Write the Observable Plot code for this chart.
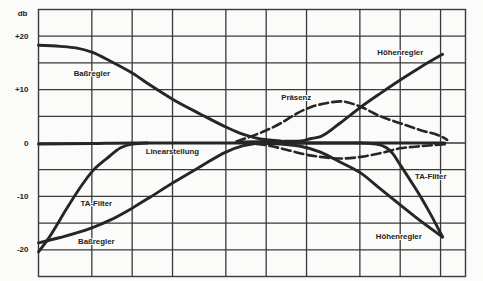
<!DOCTYPE html>
<html>
<head>
<meta charset="utf-8">
<script src="https://cdn.jsdelivr.net/npm/d3@7"></script>
<script src="https://cdn.jsdelivr.net/npm/@observablehq/plot@0.6"></script>
<style>
  html, body { margin: 0; padding: 0; background: #fbfbfa; }
</style>
</head>
<body>
<div id="chart"></div>
<script>
// Frequency grid (Hz, log axis) and level grid (dB)
const xGrid = [50, 100, 200, 500, 1000, 2000, 5000, 10000, 20000];
const yGrid = [-20, -15, -10, -5, 0, 5, 10, 15, 20];
const yTicks = [-20, -10, 0, 10, 20];
const yTickLabels = ["-20", "-10", "0", "+10", "+20"];

// Curves: [frequency Hz, level dB]
const bassBoost = [[20,18.3],[29,18.1],[38,17.8],[50,17.0],[69,15.3],[100,13.1],[137,10.8],[200,8.2],[324,5.4],[500,3.0],[676,1.6],[904,0.75],[1284,0.4]];
const bassCut = [[20,-18.7],[29,-17.7],[50,-15.9],[69,-14.4],[100,-12.2],[137,-10.1],[200,-7.5],[324,-4.4],[500,-1.7],[676,-0.5],[904,0]];
const taLow = [[20,-20.4],[23.4,-18.1],[33,-12],[41.3,-8.2],[50,-5.4],[65.5,-2.8],[82,-0.9],[100,-0.2],[130,0]];
const linear = [[20,-0.2],[50,-0.1],[100,0],[1000,0],[10000,0],[21500,0]];
const trebleBoost = [[643,0.2],[1284,0.3],[1803,0.4],[2142,0.8],[2542,1.2],[3586,3.8],[5060,6.7],[7112,9.3],[10000,11.8],[14160,14.2],[20700,16.6]];
const trebleCut = [[765,0],[1284,-0.2],[1803,-0.6],[2542,-1.7],[3586,-3.6],[5060,-5.6],[7112,-8.6],[10000,-11.6],[14160,-14.6],[20700,-17.6]];
const taHigh = [[1000,0],[5060,0],[6600,-0.2],[7900,-0.9],[8740,-1.9],[10000,-4.1],[11900,-7],[14160,-10],[17000,-13.5],[20700,-17.6]];
const presenceBoost = [[600,0.3],[904,1.9],[1284,3.7],[1712,5.6],[2142,6.7],[2868,7.5],[3586,7.8],[5060,6.8],[7112,5.0],[10000,3.7],[14160,2.4],[20700,1.1],[22400,0.6]];
const presenceCut = [[676,0],[1000,-0.4],[1440,-1.3],[2000,-2.2],[2542,-2.6],[3586,-2.9],[5060,-2.6],[7112,-1.9],[10000,-1.0],[14160,-0.6],[22400,-0.2]];

// Curve labels: text, frequency, dB
const labelTexts = ["Baßregler", "Baßregler", "TA-Filter", "Linearstellung", "Präsenz", "Höhenregler", "TA-Filter", "Höhenregler"];
const labelFreqs = [50, 54, 54, 126, 1676, 10000, 16900, 9750];
const labelDbs = [13.1, -18.5, -11.4, -1.5, 8.6, 17.0, -6.2, -17.6];
const labelAnchors = ["middle", "middle", "middle", "start", "middle", "middle", "middle", "middle"];

const toRows = (pts) => pts.map(([f, d]) => ({f, d}));
const solid = [bassBoost, bassCut, taLow, linear, trebleBoost, trebleCut, taHigh];
const dashed = [presenceBoost, presenceCut];
const labels = labelTexts.map((t, i) => ({t, f: labelFreqs[i], d: labelDbs[i], a: labelAnchors[i]}));

const ink = "#262626";
const marks = [
  Plot.ruleX(xGrid, {stroke: "#3a3a3a", strokeWidth: 1.3}),
  Plot.ruleY(yGrid, {stroke: "#3a3a3a", strokeWidth: 1.3}),
  Plot.frame({stroke: "#3a3a3a", strokeWidth: 1.4}),
  ...solid.map(s => Plot.line(toRows(s), {x: "f", y: "d", curve: "monotone-x", stroke: ink, strokeWidth: 2.9, strokeLinecap: "round"})),
  ...dashed.map(s => Plot.line(toRows(s), {x: "f", y: "d", curve: "monotone-x", stroke: ink, strokeWidth: 2.6, strokeDasharray: "9,4"})),
  ...["start", "middle"].map(anchor => Plot.text(labels.filter(l => l.a === anchor), {x: "f", y: "d", text: "t", textAnchor: anchor, fill: "#222", fontSize: 7.8, fontWeight: "bold", stroke: "#fbfbfa", strokeWidth: 2})),
  Plot.text(["db"], {frameAnchor: "top-left", textAnchor: "end", lineAnchor: "middle", dx: -11, dy: 4, fill: "#222", fontSize: 8, fontWeight: "bold"})
];

const chart = Plot.plot({
  width: 483,
  height: 281,
  marginLeft: 38,
  marginRight: 18,
  marginTop: 9,
  marginBottom: 5,
  x: {type: "log", domain: [20, 30700], axis: null},
  y: {domain: [-25, 25], ticks: yTicks, tickFormat: (d) => yTickLabels[yTicks.indexOf(d)], tickSize: 0, tickPadding: 10, label: null},
  style: {background: "#fbfbfa", color: "#222", fontFamily: "'Liberation Sans', Arial, sans-serif", fontSize: "8px", fontWeight: "bold"},
  marks
});
document.getElementById("chart").appendChild(chart);
</script>
</body>
</html>
